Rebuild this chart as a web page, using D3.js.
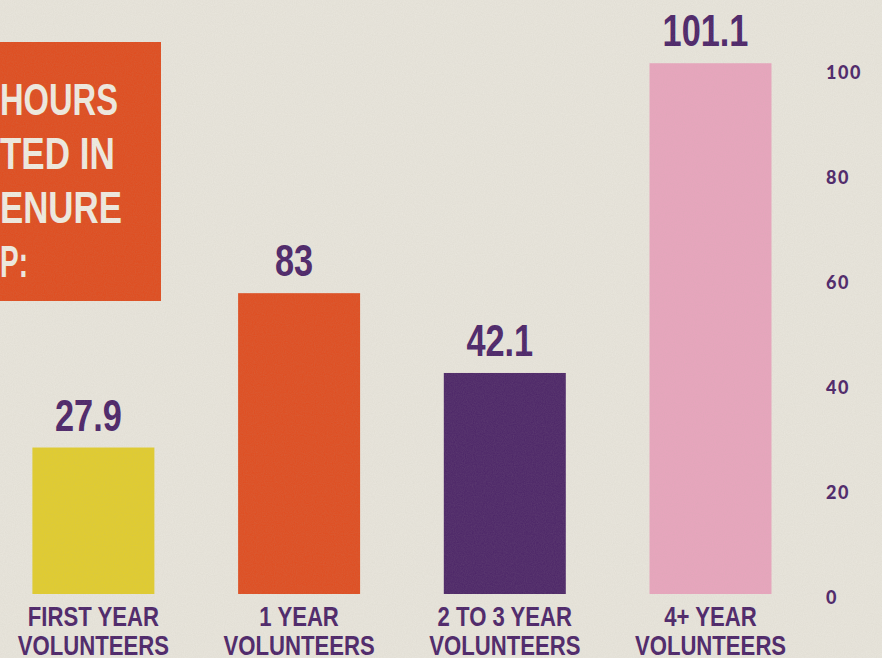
<!DOCTYPE html>
<html>
<head>
<meta charset="utf-8">
<script src="https://cdn.jsdelivr.net/npm/d3@7"></script>
<style>
  html, body { margin: 0; padding: 0; background: #e9e6dd; overflow: hidden; }
  svg { display: block; }
</style>
</head>
<body>
<svg width="882" height="658"></svg>
<script>
// data
const categories = ["FIRST YEAR", "1 YEAR", "2 TO 3 YEAR", "4+ YEAR"];
// bar heights as drawn (the 1 year bar is drawn shorter than its label says)
const barValues = [27.9, 57.3, 42.1, 101.1];
const valueLabels = ["27.9", "83", "42.1", "101.1"];
const barColors = ["#e2cd2c", "#e04c1f", "#4b2467", "#e9a5be"];
const yTicks = [0, 20, 40, 60, 80, 100];
// title runs off the left edge, only the tail of each line shows
const titleLines = ["AVERAGE HOURS", "CONTRIBUTED IN", "2023 BY TENURE", "GROUP:"];
const titleVisible = ["HOURS", "TED IN", "ENURE", "P:"];

const purple = "#4a2268";
const bold = "'Liberation Sans', Arial, sans-serif";

const svg = d3.select("svg"),
   width = +svg.attr("width"),
   height = +svg.attr("height");

// paper texture
const defs = svg.append("defs");
const f = defs.append("filter").attr("id", "paper")
   .attr("x", 0).attr("y", 0).attr("width", "100%").attr("height", "100%");
f.append("feTurbulence").attr("type", "fractalNoise").attr("baseFrequency", 0.9)
   .attr("numOctaves", 2).attr("seed", 4).attr("result", "n");
f.append("feColorMatrix").attr("type", "matrix")
   .attr("values", "0 0 0 0 0.45  0 0 0 0 0.42  0 0 0 0 0.35  0 0 0 0.16 0");

svg.append("rect").attr("width", width).attr("height", height).attr("fill", "#e9e6dd");

var xScale = d3.scaleBand().domain(categories).range([32.4, 771.5])
      .paddingInner(0.407).paddingOuter(0),
   yScale = d3.scaleLinear().domain([0, 100]).range([594, 69]);

const cx = d => xScale(d) + xScale.bandwidth() / 2;

// title box (cut off on the left)
svg.append("rect")
   .attr("x", -20).attr("y", 42).attr("width", 181).attr("height", 259)
   .attr("fill", "#e04b1d");
const titleEnds = [118, 115, 122, 28];
const tl = svg.append("g").selectAll("g")
   .data(titleLines)
   .enter().append("g");
const tt = tl.append("text")
   .attr("fill", "#f1ece2")
   .style("font-family", bold)
   .style("font-weight", 700)
   .style("font-size", "45px")
   .style("font-kerning", "none");
tt.append("tspan").attr("class", "pre")
   .text((d, i) => d.slice(0, d.length - titleVisible[i].length));
tt.append("tspan").attr("class", "vis")
   .text((d, i) => titleVisible[i]);
tl.each(function (d, i) {
   const g = d3.select(this);
   const w1 = g.select(".pre").node().getComputedTextLength();
   const w2 = g.select(".vis").node().getComputedTextLength();
   g.select("text").attr("x", -w1);
   g.attr("transform", `translate(0,${115 + i * 54}) scale(${titleEnds[i] / w2},1)`);
});

// bars
svg.append("g").selectAll(".bar")
   .data(categories)
   .enter().append("rect")
   .attr("class", "bar")
   .attr("x", d => xScale(d))
   .attr("y", (d, i) => yScale(barValues[i]))
   .attr("width", xScale.bandwidth())
   .attr("height", (d, i) => yScale(0) - yScale(barValues[i]))
   .attr("fill", (d, i) => barColors[i]);

// value labels
svg.append("g").selectAll("g")
   .data(categories)
   .enter().append("g")
   .attr("transform", (d, i) => `translate(${cx(d) - 5},${yScale(barValues[i]) - 17}) scale(0.78,1)`)
   .append("text")
   .attr("text-anchor", "middle")
   .attr("fill", purple)
   .style("font-family", bold)
   .style("font-weight", 700)
   .style("font-size", "44px")
   .text((d, i) => valueLabels[i]);

// category labels
const cat = svg.append("g").selectAll("g")
   .data(categories)
   .enter().append("g")
   .attr("transform", d => `translate(${cx(d)},626) scale(0.82,1)`)
   .append("text")
   .attr("text-anchor", "middle")
   .attr("fill", purple)
   .style("font-family", bold)
   .style("font-weight", 700)
   .style("font-size", "27px");
cat.append("tspan").attr("x", 0).text(d => d);
cat.append("tspan").attr("x", 0).attr("dy", 29).text("VOLUNTEERS");

// right axis
const axis = svg.append("g")
   .attr("transform", "translate(820,4)")
   .call(d3.axisRight(yScale).tickValues(yTicks).tickSize(0).tickPadding(6));
axis.select(".domain").remove();
axis.selectAll("text")
   .attr("fill", purple)
   .style("font-family", "Lato, sans-serif")
   .style("font-weight", 900)
   .style("font-size", "18px")
   .style("letter-spacing", "1.5px");

svg.append("rect").attr("width", width).attr("height", height)
   .attr("filter", "url(#paper)").style("pointer-events", "none");
</script>
</body>
</html>
